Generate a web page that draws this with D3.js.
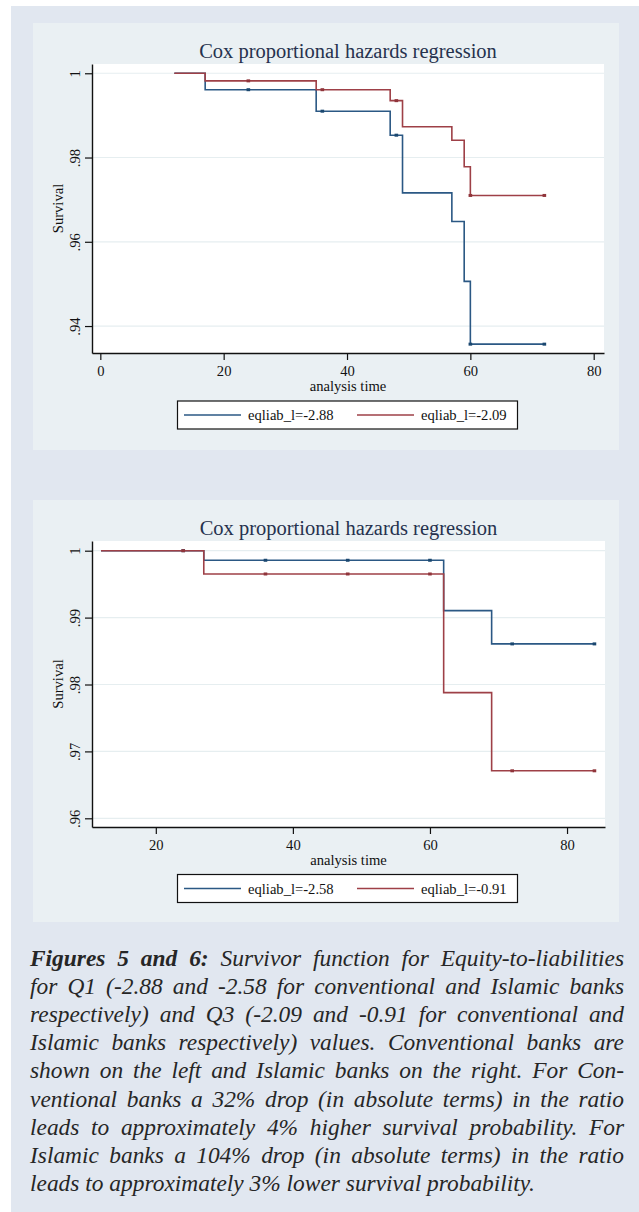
<!DOCTYPE html>
<html>
<head>
<meta charset="utf-8">
<script src="https://cdn.jsdelivr.net/npm/d3@7"></script>
<style>
    body { margin: 0; background: #ffffff; }
    svg { display: block; }
</style>
</head>
<body>
<svg id="figsvg" width="639" height="1212"></svg>
<script>
// ---- data ----
var timesConv = [12, 17, 35, 47, 49, 57, 59, 60, 72];
var survConvQ1 = [1, 0.9961, 0.9910, 0.9853, 0.9716, 0.9648, 0.9506, 0.9357, 0.9357];
var survConvQ3 = [1, 0.9982, 0.9961, 0.9935, 0.9873, 0.9841, 0.9778, 0.9710, 0.9710];
var censorConv = [24, 36, 48, 60, 72];

var timesIsl = [12, 27, 62, 69, 84];
var survIslQ1 = [1, 0.99857, 0.99104, 0.98607, 0.98607];
var survIslQ3 = [1, 0.99652, 0.97878, 0.96710, 0.96710];
var censorIsl = [24, 36, 48, 60, 72, 84];

var xTicksConv = [0, 20, 40, 60, 80];
var yTicksConv = [1, 0.98, 0.96, 0.94];
var xTicksIsl = [20, 40, 60, 80];
var yTicksIsl = [1, 0.99, 0.98, 0.97, 0.96];

var legendConv = ["eqliab_l=-2.88", "eqliab_l=-2.09"];
var legendIsl = ["eqliab_l=-2.58", "eqliab_l=-0.91"];

var captionLines = [
    "Figures 5 and 6: Survivor function for Equity-to-liabilities",
    "for Q1 (-2.88 and -2.58 for conventional and Islamic banks",
    "respectively) and Q3 (-2.09 and -0.91 for conventional and",
    "Islamic banks respectively) values. Conventional banks are",
    "shown on the left and Islamic banks on the right. For Con-",
    "ventional banks a 32% drop (in absolute terms) in the ratio",
    "leads to approximately 4% higher survival probability. For",
    "Islamic banks a 104% drop (in absolute terms) in the ratio",
    "leads to approximately 3% lower survival probability."
];
var boldWordCount = 4;

var blueLine = '#2b5884', blueMark = '#1a476f';
var redLine = '#9e4047', redMark = '#90353b';
var serif = "'Liberation Serif', 'Times New Roman', serif";
var labelSize = 14.6;

var svg = d3.select("#figsvg");

// page / panel backgrounds
svg.append('rect').attr('x', 0).attr('y', 0).attr('width', 639).attr('height', 1212).attr('fill', '#ffffff');
svg.append('rect').attr('x', 11).attr('y', 6).attr('width', 628).attr('height', 1206).attr('fill', '#e1e7f0');

function drawChart(cfg)
{
    var g = svg.append('g');

    // outer graph region (stata style)
    g.append('rect')
        .attr('x', 33).attr('y', cfg.boxTop)
        .attr('width', 586).attr('height', cfg.boxBottom - cfg.boxTop)
        .attr('fill', '#eaf0f3');

    var x = d3.scaleLinear().domain(cfg.xDomain).range([cfg.left, cfg.right]);
    var y = d3.scaleLinear().domain(cfg.yDomain).range([cfg.bottom, cfg.top]);

    g.append('rect')
        .attr('x', cfg.left).attr('y', cfg.top)
        .attr('width', cfg.right - cfg.left).attr('height', cfg.bottom - cfg.top)
        .attr('fill', '#ffffff');

    // grid lines
    g.selectAll('.grid')
        .data(cfg.yTicks)
        .enter()
        .append('line')
        .attr('class', 'grid')
        .attr('x1', cfg.left + 1).attr('x2', cfg.right)
        .attr('y1', function(d) { return y(d); })
        .attr('y2', function(d) { return y(d); })
        .attr('stroke', '#e6eef0')
        .attr('stroke-width', 1.2);

    var line = d3.line()
        .x(function(d) { return x(d[0]); })
        .y(function(d) { return y(d[1]); })
        .curve(d3.curveStepAfter);

    cfg.series.forEach(function(s) {
        var pts = cfg.times.map(function(t, i) { return [t, s.surv[i]]; });
        g.append('path')
            .attr('d', line(pts))
            .attr('fill', 'none')
            .attr('stroke', s.color)
            .attr('stroke-width', 1.6);

        // censoring marks
        g.selectAll(null)
            .data(cfg.censor)
            .enter()
            .append('rect')
            .attr('x', function(d) { return x(d) - 1.8; })
            .attr('y', function(d) {
                var idx = d3.bisectRight(cfg.times, d) - 1;
                return y(s.surv[idx]) - 1.5;
            })
            .attr('width', 3.6)
            .attr('height', 3)
            .attr('fill', s.mark);
    });

    // axes
    var yAxis = d3.axisLeft(y)
        .tickValues(cfg.yTicks)
        .tickSize(7)
        .tickSizeOuter(0)
        .tickFormat(function(d) { return d === 1 ? "1" : d3.format(".2f")(d).replace(/^0/, ''); });

    var yg = g.append('g')
        .attr('transform', 'translate(' + cfg.left + ',0)')
        .call(yAxis);
    yg.selectAll('text')
        .attr('x', null).attr('dy', null)
        .attr('transform', 'translate(-12,0) rotate(-90)')
        .attr('text-anchor', 'middle');

    var xAxis = d3.axisBottom(x)
        .tickValues(cfg.xTicks)
        .tickSize(7)
        .tickSizeOuter(0)
        .tickPadding(6);

    var xg = g.append('g')
        .attr('transform', 'translate(0,' + cfg.bottom + ')')
        .call(xAxis);

    [yg, xg].forEach(function(a) {
        a.attr('font-family', serif).attr('font-size', labelSize);
        a.selectAll('text').attr('fill', '#111111');
        a.selectAll('line').attr('stroke', '#111111').attr('stroke-width', 1.2);
        a.select('.domain').attr('stroke', '#111111').attr('stroke-width', 1.4);
    });

    var midX = (cfg.left + cfg.right) / 2;

    g.append('text')
        .attr('x', midX)
        .attr('y', cfg.titleY)
        .attr('text-anchor', 'middle')
        .attr('font-family', serif)
        .attr('font-size', 20.5)
        .attr('fill', '#26324e')
        .text('Cox proportional hazards regression');

    g.append('text')
        .attr('x', midX)
        .attr('y', cfg.bottom + 37.5)
        .attr('text-anchor', 'middle')
        .attr('font-family', serif)
        .attr('font-size', labelSize)
        .attr('fill', '#111111')
        .text('analysis time');

    g.append('text')
        .attr('transform', 'translate(63,' + ((cfg.top + cfg.bottom) / 2) + ') rotate(-90)')
        .attr('text-anchor', 'middle')
        .attr('font-family', serif)
        .attr('font-size', labelSize)
        .attr('fill', '#111111')
        .text('Survival');

    // legend
    var ly = cfg.legendY;
    g.append('rect')
        .attr('x', 177.5).attr('y', ly - 14)
        .attr('width', 340).attr('height', 28)
        .attr('fill', '#ffffff')
        .attr('stroke', '#111111')
        .attr('stroke-width', 1.2);

    var keyX = [184, 357];
    cfg.series.forEach(function(s, i) {
        g.append('line')
            .attr('x1', keyX[i]).attr('x2', keyX[i] + 57)
            .attr('y1', ly).attr('y2', ly)
            .attr('stroke', s.color)
            .attr('stroke-width', 1.6);
        g.append('text')
            .attr('x', keyX[i] + 64)
            .attr('y', ly + 5)
            .attr('font-family', serif)
            .attr('font-size', labelSize)
            .attr('fill', '#111111')
            .text(s.label);
    });
}

drawChart({
    boxTop: 23, boxBottom: 450,
    left: 92, right: 604, top: 64, bottom: 353,
    xDomain: [-1.35, 81.67], yDomain: [0.9336, 1.0022],
    xTicks: xTicksConv, yTicks: yTicksConv,
    times: timesConv, censor: censorConv,
    series: [
        { surv: survConvQ1, color: blueLine, mark: blueMark, label: legendConv[0] },
        { surv: survConvQ3, color: redLine, mark: redMark, label: legendConv[1] }
    ],
    titleY: 58, legendY: 415
});

drawChart({
    boxTop: 500, boxBottom: 922,
    left: 92, right: 605, top: 541, bottom: 827,
    xDomain: [10.69, 85.54], yDomain: [0.9587, 1.00145],
    xTicks: xTicksIsl, yTicks: yTicksIsl,
    times: timesIsl, censor: censorIsl,
    series: [
        { surv: survIslQ1, color: blueLine, mark: blueMark, label: legendIsl[0] },
        { surv: survIslQ3, color: redLine, mark: redMark, label: legendIsl[1] }
    ],
    titleY: 535, legendY: 888.5
});

// caption, justified by hand
function drawCaption()
{
    var cap = svg.append('g')
        .attr('font-family', serif)
        .attr('font-style', 'italic')
        .attr('fill', '#262626');

    var leftX = 30, rightX = 624, firstBase = 966, lineGap = 28.1;

    // fit size so the last (ragged) line ends where it does in the figure
    var probe = cap.append('text').attr('font-size', 20).text(captionLines[captionLines.length - 1]);
    var fs = 20 * 505 / probe.node().getComputedTextLength();
    probe.remove();

    var wordNo = 0;
    captionLines.forEach(function(l, li) {
        var words = l.split(' ');
        var items = words.map(function(w) {
            var bold = wordNo < boldWordCount;
            wordNo++;
            var t = cap.append('text')
                .attr('y', firstBase + li * lineGap)
                .attr('font-size', fs)
                .attr('font-weight', bold ? 'bold' : 'normal')
                .text(w);
            return { el: t, w: t.node().getComputedTextLength() };
        });
        var total = d3.sum(items, function(d) { return d.w; });
        var last = li === captionLines.length - 1;
        var gap = last ? fs * 0.25 : (rightX - leftX - total) / (items.length - 1);
        var cx = leftX;
        items.forEach(function(d) {
            d.el.attr('x', cx);
            cx += d.w + gap;
        });
    });
}
drawCaption();
</script>
</body>
</html>
